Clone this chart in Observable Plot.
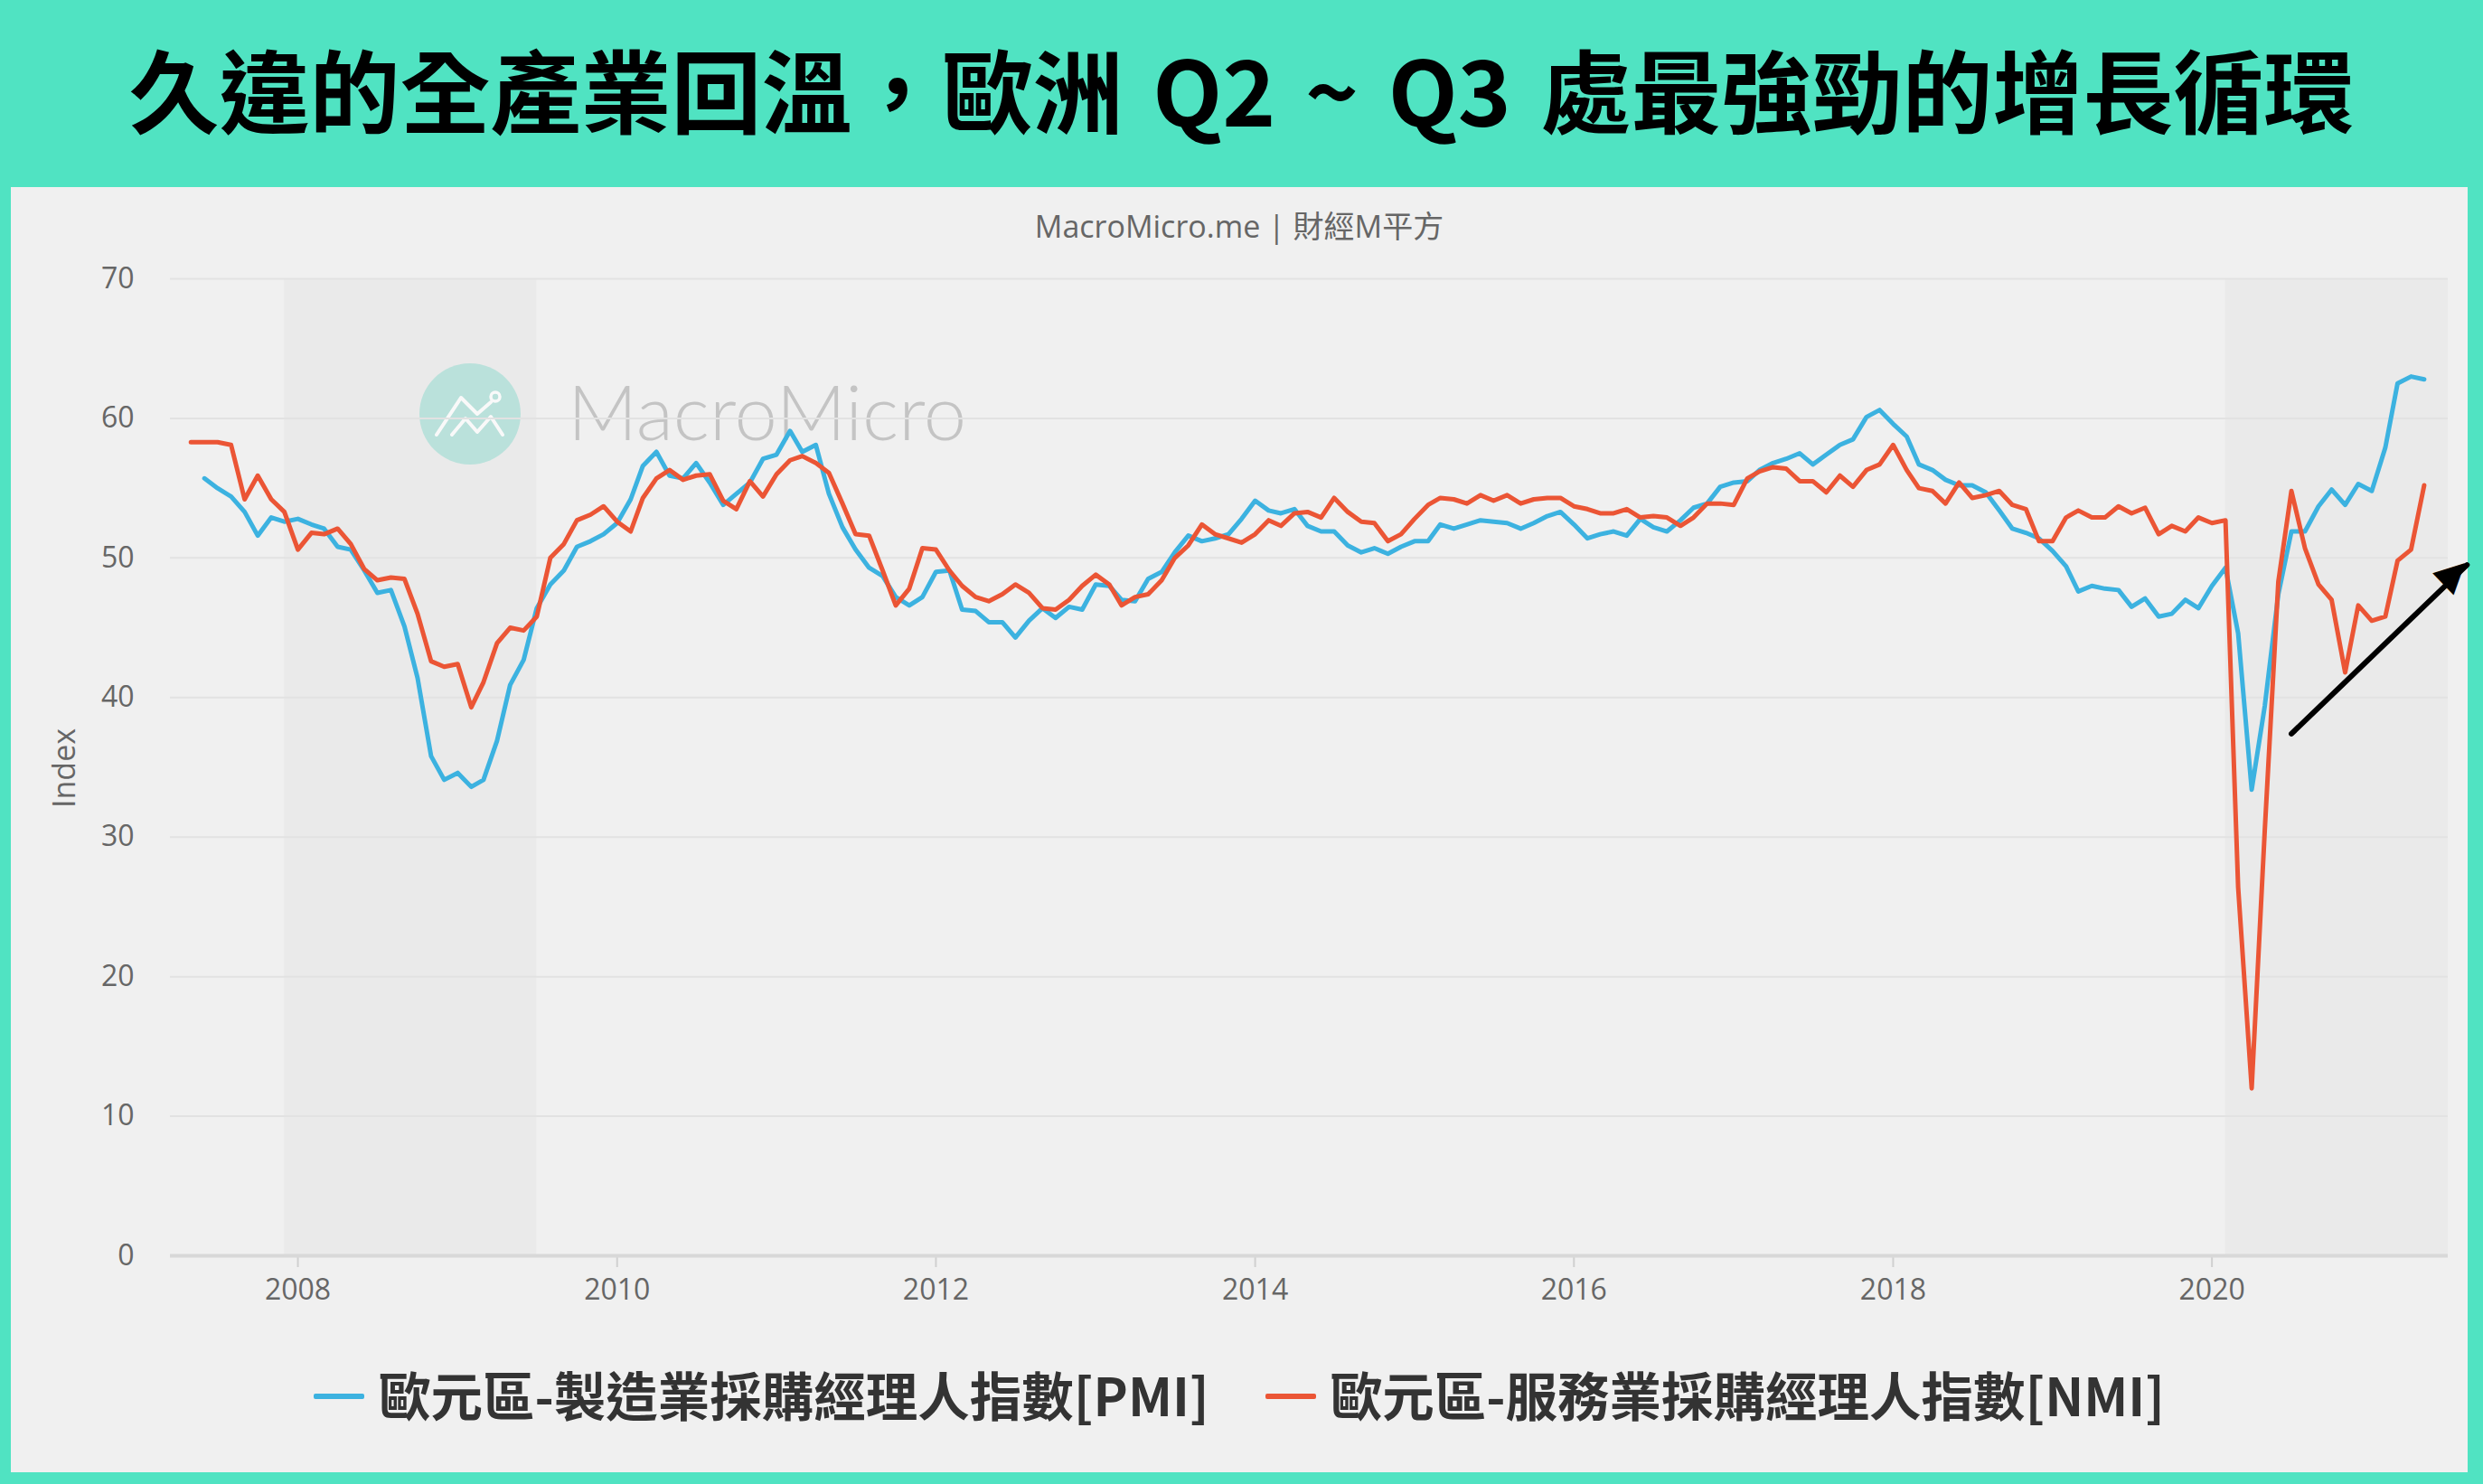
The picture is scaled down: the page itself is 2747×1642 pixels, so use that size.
<!DOCTYPE html>
<html>
<head>
<meta charset="utf-8">
<script src="https://cdn.jsdelivr.net/npm/d3@7"></script>
<script src="https://cdn.jsdelivr.net/npm/@observablehq/plot@0.6"></script>
<style>
  html, body { margin: 0; padding: 0; }
  body { width: 2747px; height: 1642px; background: #50e3c2; position: relative; overflow: hidden;
         font-family: "Open Sans", "Noto Sans CJK TC", sans-serif; }
  #title { position: absolute; left: 0; top: 37px; width: 2747px; height: 120px; line-height: 120px;
           text-align: center; font-family: "Noto Sans CJK TC", sans-serif; font-weight: 700;
           font-size: 100px; color: #000; white-space: nowrap; word-spacing: 10px; }
  #panel { position: absolute; left: 12px; top: 207px; width: 2718px; height: 1422px; background: #f0f0f0; }
  #subtitle { position: absolute; left: 0; top: 23px; width: 2718px; height: 40px; line-height: 40px;
              text-align: center; font-size: 34px; color: #666;
              font-family: "Open Sans", "Noto Sans CJK TC", sans-serif; }
  #watermark { position: absolute; left: 0; top: 0; z-index: 0; }
  #chart { position: absolute; left: 0; top: 73px; z-index: 1; }
  #ylabel { position: absolute; left: 58px; top: 643px; transform: translate(-50%, -50%) rotate(-90deg);
            font-size: 34px; color: #666; white-space: nowrap; font-family: "Open Sans", sans-serif; }
  #legend { position: absolute; left: 0; top: 1302px; width: 2718px; height: 66px;
            display: flex; justify-content: center; align-items: center; gap: 62px;
            font-family: "Noto Sans CJK TC", sans-serif; font-weight: 700; font-size: 57.5px; color: #333; }
  .item { display: flex; align-items: center; gap: 16px; line-height: 66px; }
  .sw { width: 56px; height: 6px; border-radius: 2px; margin-top: 6px; }
</style>
</head>
<body>
<div id="title">久違的全產業回溫，歐洲 Q2 ~ Q3 處最強勁的增長循環</div>
<div id="panel">
  <svg id="watermark" width="2718" height="600">
    <g transform="translate(508,251)">
      <circle r="56" fill="#bfe7e1"/>
      <polyline points="-37,23 -10,-18 8,0 23,-13" fill="none" stroke="#fff" stroke-width="4" stroke-linecap="round" stroke-linejoin="round"/>
      <circle cx="28" cy="-19" r="5" fill="none" stroke="#fff" stroke-width="3.5"/>
      <polyline points="-20,23 -5,5 8,20 23,3 36,23" fill="none" stroke="#fff" stroke-width="4" stroke-linecap="round" stroke-linejoin="round"/>
    </g>
    <text x="616" y="280" font-family="Lato, 'Open Sans', sans-serif" font-weight="300" font-size="85" fill="#c4c4c4">MacroMicro</text>
  </svg>
  <div id="subtitle">MacroMicro.me | 財經M平方</div>
  <div id="chart"></div>
  <div id="ylabel">Index</div>
  <div id="legend"></div>
</div>
<script>
// ---- data (monthly) ----
const pmiStart = [2007, 6];   // first month of manufacturing PMI (year, month)
const nmiStart = [2007, 5];   // first month of services PMI
const pmiName = "歐元區-製造業採購經理人指數[PMI]";
const nmiName = "歐元區-服務業採購經理人指數[NMI]";
const pmiValues = [
  55.7, 55.0, 54.4, 53.3, 51.6, 52.9, 52.6,
  52.8, 52.4, 52.1, 50.8, 50.6, 49.1, 47.5, 47.7, 45.1, 41.4, 35.8, 34.1,
  34.6, 33.6, 34.1, 36.9, 40.9, 42.7, 46.4, 48.1, 49.1, 50.8, 51.2, 51.7,
  52.5, 54.2, 56.6, 57.6, 55.9, 55.7, 56.8, 55.4, 53.8, 54.6, 55.4, 57.1,
  57.4, 59.1, 57.6, 58.1, 54.6, 52.2, 50.6, 49.3, 48.7, 47.2, 46.6, 47.2,
  49.0, 49.1, 46.3, 46.2, 45.4, 45.4, 44.3, 45.5, 46.4, 45.7, 46.5, 46.3,
  48.1, 48.0, 47.0, 46.9, 48.5, 49.0, 50.4, 51.6, 51.2, 51.4, 51.7, 52.8,
  54.1, 53.4, 53.2, 53.5, 52.3, 51.9, 51.9, 50.9, 50.4, 50.7, 50.3, 50.8,
  51.2, 51.2, 52.4, 52.1, 52.4, 52.7, 52.6, 52.5, 52.1, 52.5, 53.0, 53.3,
  52.4, 51.4, 51.7, 51.9, 51.6, 52.8, 52.2, 51.9, 52.7, 53.6, 53.9, 55.1,
  55.4, 55.5, 56.3, 56.8, 57.1, 57.5, 56.7, 57.4, 58.1, 58.5, 60.1, 60.6,
  59.6, 58.7, 56.7, 56.3, 55.6, 55.2, 55.2, 54.7, 53.4, 52.1, 51.8, 51.4,
  50.5, 49.4, 47.6, 48.0, 47.8, 47.7, 46.5, 47.1, 45.8, 46.0, 47.0, 46.4,
  48.0, 49.3, 44.6, 33.4, 39.4, 47.4, 51.9, 51.9, 53.7, 54.9, 53.8, 55.3,
  54.8, 57.9, 62.5, 63.0, 62.8
];
const nmiValues = [
  58.3, 58.3, 58.3, 58.1, 54.2, 55.9, 54.2, 53.3,
  50.6, 51.8, 51.7, 52.1, 51.0, 49.2, 48.4, 48.6, 48.5, 46.0, 42.6, 42.2,
  42.4, 39.3, 41.1, 43.9, 45.0, 44.8, 45.8, 50.0, 51.0, 52.7, 53.1, 53.7,
  52.6, 51.9, 54.3, 55.7, 56.3, 55.6, 55.9, 56.0, 54.1, 53.5, 55.5, 54.4,
  56.0, 57.0, 57.3, 56.8, 56.1, 53.9, 51.7, 51.6, 49.1, 46.6, 47.8, 50.7,
  50.6, 49.1, 48.0, 47.2, 46.9, 47.4, 48.1, 47.5, 46.4, 46.3, 47.0, 48.0,
  48.8, 48.1, 46.6, 47.2, 47.4, 48.4, 50.0, 50.9, 52.4, 51.7, 51.4, 51.1,
  51.7, 52.7, 52.3, 53.2, 53.3, 52.9, 54.3, 53.3, 52.6, 52.5, 51.2, 51.7,
  52.8, 53.8, 54.3, 54.2, 53.9, 54.5, 54.1, 54.5, 53.9, 54.2, 54.3, 54.3,
  53.7, 53.5, 53.2, 53.2, 53.5, 52.9, 53.0, 52.9, 52.3, 52.9, 53.9, 53.9,
  53.8, 55.7, 56.2, 56.5, 56.4, 55.5, 55.5, 54.7, 55.9, 55.1, 56.3, 56.7,
  58.1, 56.3, 55.0, 54.8, 53.9, 55.4, 54.3, 54.5, 54.8, 53.8, 53.5, 51.2,
  51.2, 52.9, 53.4, 52.9, 52.9, 53.7, 53.2, 53.6, 51.7, 52.3, 51.9, 52.9,
  52.5, 52.7, 26.4, 12.0, 30.5, 48.3, 54.8, 50.7, 48.1, 47.0, 41.8, 46.6,
  45.5, 45.8, 49.8, 50.6, 55.2
];
const yTicks = [0, 10, 20, 30, 40, 50, 60, 70];
const xTickYears = [2008, 2010, 2012, 2014, 2016, 2018, 2020];
const xRange = ["2007-03-15", "2021-06-25"];
const recessionStarts = ["2007-12-01", "2020-02-01"];
const recessionEnds = ["2009-07-01", "2021-06-25"];
const arrowFrom = ["2020-07-01", 37.4];
const arrowTo = ["2021-08-07", 49.5];

// ---- build tables ----
const toRows = (start, values) => values.map((v, i) => ({
  date: d3.utcMonth.offset(new Date(Date.UTC(start[0], start[1] - 1, 1)), i), value: v }));
const pmiRows = toRows(pmiStart, pmiValues);
const nmiRows = toRows(nmiStart, nmiValues);
const parse = s => new Date(s + "T00:00:00Z");
const recessions = recessionStarts.map((s, i) => ({ start: parse(s), end: parse(recessionEnds[i]) }));
const xTicks = xTickYears.map(y => new Date(Date.UTC(y, 0, 1)));
const arrowNote = [{ x1: parse(arrowFrom[0]), y1: arrowFrom[1], x2: parse(arrowTo[0]), y2: arrowTo[1] }];
const yMin = d3.min(yTicks), yMax = d3.max(yTicks);

const blue = "#3cb2e0", red = "#eb5535";

const chart = Plot.plot({
  width: 2718, height: 1200,
  marginLeft: 176, marginRight: 22, marginTop: 28, marginBottom: 91,
  style: { background: "transparent", fontFamily: "'Open Sans', sans-serif", overflow: "visible" },
  x: { type: "utc", domain: xRange.map(parse) },
  y: { domain: [yMin, yMax] },
  marks: [
    Plot.rect(recessions, { x1: "start", x2: "end", y1: yMin, y2: yMax, fill: "#000", fillOpacity: 0.022 }),
    Plot.ruleY(yTicks.filter(d => d > yMin), { stroke: "#e2e2e2", strokeWidth: 2 }),
    Plot.axisY({ ticks: yTicks, tickSize: 0, tickPadding: 40, fontSize: 32, fill: "#666", label: null }),
    Plot.axisX({ ticks: xTicks, tickFormat: d3.utcFormat("%Y"), tickSize: 13, tickPadding: 13,
                 stroke: "#d0d0d0", strokeWidth: 2, fill: "#666", fontSize: 32, label: null }),
    Plot.ruleY([yMin], { stroke: "#d8d8d8", strokeWidth: 4 }),
    Plot.line(pmiRows, { x: "date", y: "value", stroke: blue, strokeWidth: 5, strokeLinejoin: "round", strokeLinecap: "round" }),
    Plot.line(nmiRows, { x: "date", y: "value", stroke: red, strokeWidth: 5, strokeLinejoin: "round", strokeLinecap: "round" }),
    Plot.arrow(arrowNote, { x1: "x1", y1: "y1", x2: "x2", y2: "y2", stroke: "#000", strokeWidth: 6, headLength: 0 }),
    Plot.text(arrowNote, { x: "x2", y: "y2", text: () => "▲", rotate: 46, fontSize: 44, fill: "#000",
                           fontFamily: "DejaVu Sans", lineAnchor: "top", dy: -4 })
  ]
});
document.getElementById("chart").appendChild(chart);

// legend
const legend = document.getElementById("legend");
[[pmiName, blue], [nmiName, red]].forEach(([name, color]) => {
  const item = document.createElement("div");
  item.className = "item";
  const sw = document.createElement("span");
  sw.className = "sw"; sw.style.background = color;
  const tx = document.createElement("span");
  tx.textContent = name;
  item.appendChild(sw); item.appendChild(tx);
  legend.appendChild(item);
});
</script>
</body>
</html>
